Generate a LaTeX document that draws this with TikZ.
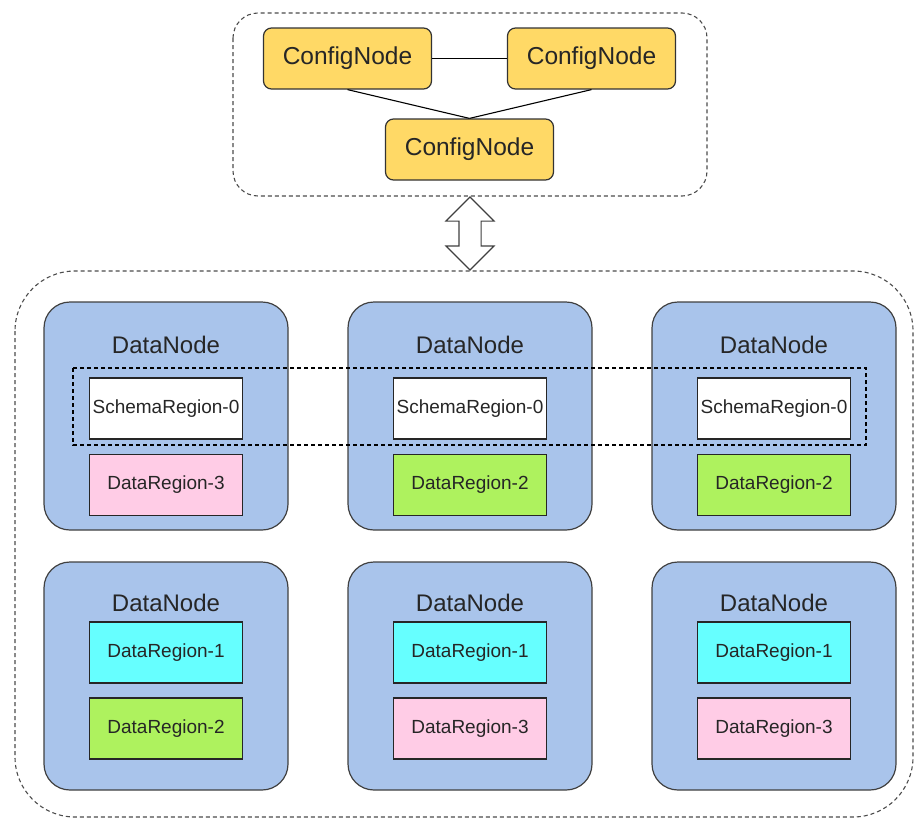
\documentclass[tikz,border=0pt]{standalone}
\usepackage{fontspec}
\setmainfont{Liberation Sans}
\usepackage{xcolor}
\usetikzlibrary{positioning,shapes.arrows}

\definecolor{cfgfill}{HTML}{FFD966}
\definecolor{dnfill}{HTML}{A9C4EB}
\definecolor{pinkfill}{HTML}{FFCCE6}
\definecolor{greenfill}{HTML}{AEF25E}
\definecolor{cyanfill}{HTML}{66FFFF}

\begin{document}
\begin{tikzpicture}[
    x=1pt, y=-1pt,
    every node/.style={text=black!85},
    group/.style={draw=black!70, line width=1.1pt, dash pattern=on 4pt off 3pt},
    cfg/.style={draw=black!80, fill=cfgfill, line width=1.2pt, rounded corners=8pt,
        minimum width=168pt, minimum height=61pt, font=\fontsize{24.5}{28}\selectfont},
    dnode/.style={draw=black!75, fill=dnfill, line width=1.2pt, rounded corners=26pt,
        minimum width=244pt, minimum height=228pt},
    dntitle/.style={font=\fontsize{24}{28}\selectfont},
    region/.style={draw=black!85, line width=1.2pt, minimum width=153pt, minimum height=61pt,
        font=\fontsize{19}{22}\selectfont},
    schema/.style={region, fill=white},
    dr1/.style={region, fill=cyanfill},
    dr2/.style={region, fill=greenfill},
    dr3/.style={region, fill=pinkfill},
    link/.style={draw=black!75, fill=white, line width=1.1pt, double arrow, rotate=90,
        minimum height=73pt, inner xsep=0pt, inner ysep=10.5pt, double arrow head extend=13pt}
]
    \useasboundingbox (0,0) rectangle (915,819);

    % ConfigNode group
    \draw[group, rounded corners=25pt] (233,13) rectangle (707,196);
    \node[cfg] (c1) at (347.5,58.5) {ConfigNode};
    \node[cfg] (c2) at (591.5,58.5) {ConfigNode};
    \node[cfg] (c3) at (469.5,149.5) {ConfigNode};
    \draw[line width=1.1pt] (c1) -- (c2);
    \draw[line width=1.1pt] (c1.south) -- (c3.north);
    \draw[line width=1.1pt] (c2.south) -- (c3.north);

    % link between the groups
    \node[link] (updown) at (470,233.5) {};

    % DataNode group
    \draw[group, rounded corners=60pt] (15,271) rectangle (913,817);

    % first row
    \node[dnode] (dn1) at (166,416) {};
    \node[dnode] (dn2) at (470,416) {};
    \node[dnode] (dn3) at (774,416) {};
    \node[dntitle] (t1) at (166,345) {DataNode};
    \node[dntitle] (t2) at (470,345) {DataNode};
    \node[dntitle] (t3) at (774,345) {DataNode};
    \node[schema] (s1) at (166,408.5) {SchemaRegion-0};
    \node[schema] (s2) at (470,408.5) {SchemaRegion-0};
    \node[schema] (s3) at (774,408.5) {SchemaRegion-0};
    \node[dr3] (r13) at (166,485) {DataRegion-3};
    \node[dr2] (r22) at (470,485) {DataRegion-2};
    \node[dr2] (r32) at (774,485) {DataRegion-2};

    % SchemaRegion replicas
    \draw[line width=1.1pt, dash pattern=on 4pt off 3pt] (73,368) rectangle (866,445);

    % second row
    \node[dnode] (dn4) at (166,676) {};
    \node[dnode] (dn5) at (470,676) {};
    \node[dnode] (dn6) at (774,676) {};
    \node[dntitle] (t4) at (166,603) {DataNode};
    \node[dntitle] (t5) at (470,603) {DataNode};
    \node[dntitle] (t6) at (774,603) {DataNode};
    \node[dr1] (r41) at (166,652.5) {DataRegion-1};
    \node[dr1] (r51) at (470,652.5) {DataRegion-1};
    \node[dr1] (r61) at (774,652.5) {DataRegion-1};
    \node[dr2] (r42) at (166,728.5) {DataRegion-2};
    \node[dr3] (r53) at (470,728.5) {DataRegion-3};
    \node[dr3] (r63) at (774,728.5) {DataRegion-3};
\end{tikzpicture}
\end{document}
